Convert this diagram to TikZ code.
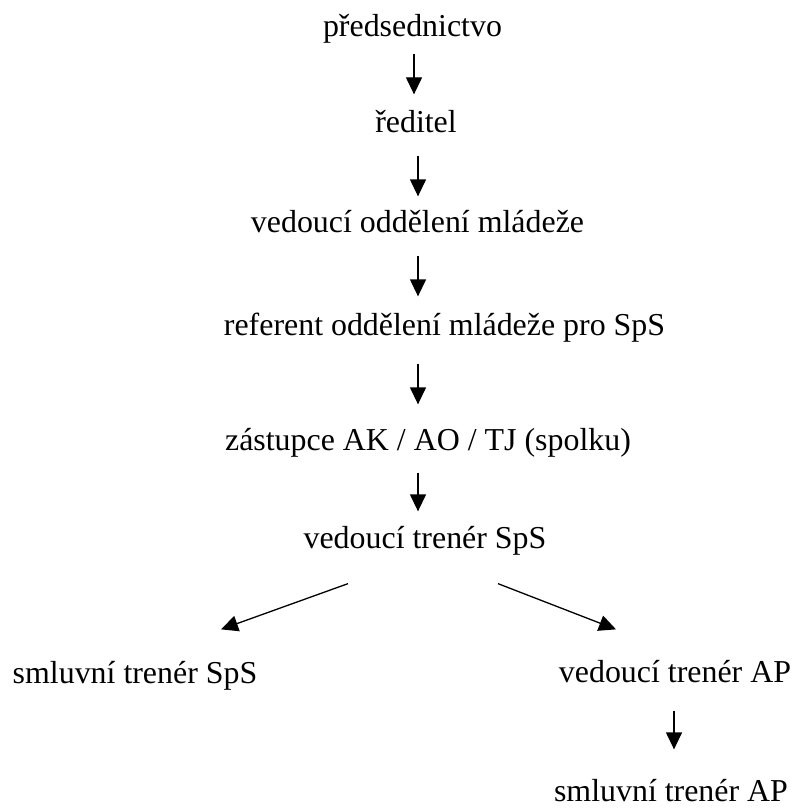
\documentclass[tikz,border=0pt]{standalone}
\usepackage{fontspec}
\setmainfont{Liberation Serif}
\usepackage{tikz}
\usetikzlibrary{arrows.meta}

\begin{document}
\begin{tikzpicture}[x=0.5pt, y=-0.5pt, line width=0.65pt,
    txt/.style={anchor=base, inner sep=0pt, text height=11pt, text depth=4pt,
      font=\fontsize{15.95pt}{19pt}\selectfont},
    arr/.style={-{Triangle[width=8pt,length=8.5pt]}}]
    \useasboundingbox (0,0) rectangle (800,808);
    \coordinate (axisA) at (414,0);
    \coordinate (axisB) at (418,0);
    \coordinate (axisC) at (674,0);
    \node[txt] (predsed) at (412.5,37) {předsednictvo};
    \node[txt] (reditel) at (416,133) {ředitel};
    \node[txt] (vedouci) at (417.5,232) {vedoucí oddělení mládeže};
    \node[txt] (referent) at (444.5,335) {referent oddělení mládeže pro SpS};
    \node[txt] (zastupce) at (428,450) {zástupce AK / AO / TJ (spolku)};
    \node[txt] (trenerSpS) at (425,548) {vedoucí trenér SpS};
    \node[txt] (smluvniSpS) at (135,683) {smluvní trenér SpS};
    \node[txt] (trenerAP) at (675,682) {vedoucí trenér AP};
    \node[txt] (smluvniAP) at (671,801) {smluvní trenér AP};
    \foreach \a/\b/\ax/\s/\e in {predsed/reditel/axisA/4pt/8pt,
      reditel/vedouci/axisB/7pt/6.5pt, vedouci/referent/axisB/7.5pt/8pt,
      referent/zastupce/axisB/10pt/11.5pt, zastupce/trenerSpS/axisB/7pt/7pt,
      trenerAP/smluvniAP/axisC/10pt/14.5pt}
    {
      \draw[arr, shorten <=\s, shorten >=\e] (\a.south -| \ax) -- (\b.north -| \ax);
    }
    \draw[arr] ([xshift=-38.5pt,yshift=-13.5pt]trenerSpS.south) -- ([xshift=43pt,yshift=15.5pt]smluvniSpS.north);
    \draw[arr] ([xshift=36.5pt,yshift=-13.5pt]trenerSpS.south) -- ([xshift=-29.5pt,yshift=15pt]trenerAP.north);
  \end{tikzpicture}
\end{document}
